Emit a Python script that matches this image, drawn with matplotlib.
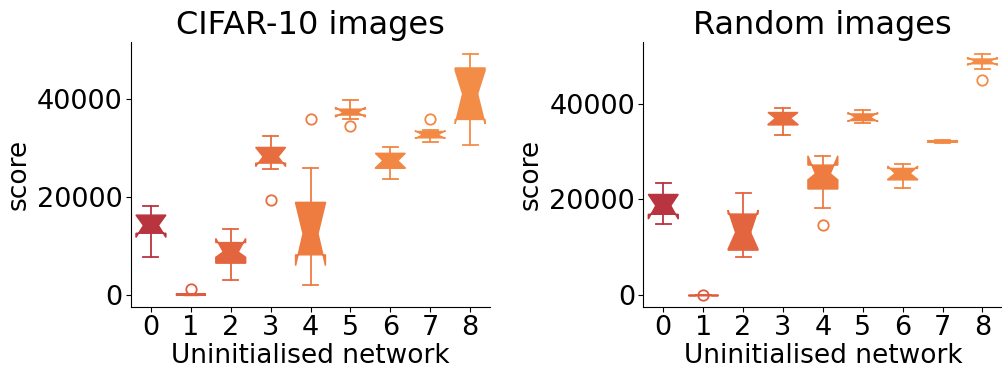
import matplotlib
matplotlib.use("Agg")
import matplotlib.pyplot as plt
from matplotlib.ticker import MultipleLocator

networks = [str(i) for i in range(9)]
colours = ["#b8343f", "#e05c40", "#e3653f", "#e76d3f", "#ee7c40",
           "#ef8240", "#f18743", "#f28a44", "#f38c46"]

# CIFAR-10 images: per-network summary statistics
cifar_lo = [7700, 0, 3000, 25800, 2000, 35900, 23700, 31300, 30500]
cifar_q1 = [12600, 0, 6500, 26900, 8200, 36700, 25850, 32050, 35800]
cifar_cilo = [11750, 0, 7700, 26200, 6000, 36300, 25900, 31950, 34900]
cifar_med = [14200, 80, 8800, 28200, 12500, 37200, 27400, 32650, 41000]
cifar_cihi = [16300, 250, 11550, 30100, 18800, 38300, 28900, 33500, 45800]
cifar_q3 = [16300, 250, 10700, 30100, 18900, 37900, 28900, 33350, 46300]
cifar_hi = [18200, 300, 13400, 32500, 26000, 39800, 30100, 33600, 49100]
cifar_fliers = [[], [1250], [], [19450], [35800], [34450], [], [35800], []]

# Random images: per-network summary statistics
random_lo = [14950, 0, 7900, 33400, 18300, 36100, 22500, 31900, 47300]
random_q1 = [16900, 0, 9400, 35600, 22200, 36500, 24100, 32000, 48400]
random_cilo = [15900, 0, 9600, 35700, 24100, 36300, 24200, 31950, 48100]
random_med = [18700, 0, 13100, 37000, 25400, 37200, 25450, 32150, 48900]
random_cihi = [21050, 0, 17800, 38200, 29150, 38200, 27000, 32350, 49750]
random_q3 = [21050, 0, 16950, 38200, 27200, 37900, 26500, 32300, 49400]
random_hi = [23400, 0, 21400, 39100, 29100, 38700, 27350, 32400, 50400]
random_fliers = [[], [0], [], [], [14650], [], [], [], [45100]]


def make_stats(lo, q1, cilo, med, cihi, q3, hi, fliers):
    return [dict(whislo=lo[i], q1=q1[i], cilo=cilo[i], med=med[i],
                 cihi=cihi[i], q3=q3[i], whishi=hi[i], fliers=fliers[i],
                 label=networks[i])
            for i in range(len(networks))]


panels = [
    ("CIFAR-10 images", make_stats(cifar_lo, cifar_q1, cifar_cilo, cifar_med,
                                   cifar_cihi, cifar_q3, cifar_hi, cifar_fliers)),
    ("Random images", make_stats(random_lo, random_q1, random_cilo, random_med,
                                 random_cihi, random_q3, random_hi, random_fliers)),
]

plt.rcParams["font.family"] = "DejaVu Sans"
fig = plt.figure(figsize=(10.03, 3.7), dpi=100)
axes = [fig.add_axes([0.1306, 0.170, 0.358, 0.716]),
        fig.add_axes([0.6414, 0.170, 0.358, 0.716])]

for ax, (title, stats) in zip(axes, panels):
    bp = ax.bxp(stats, shownotches=True, patch_artist=True, widths=0.75)
    for i, c in enumerate(colours):
        bp["boxes"][i].set_facecolor(c)
        bp["boxes"][i].set_edgecolor(c)
        bp["medians"][i].set_color(c)
        for line in bp["whiskers"][2 * i:2 * i + 2] + bp["caps"][2 * i:2 * i + 2]:
            line.set_color(c)
            line.set_linewidth(1.3)
        fl = bp["fliers"][i]
        fl.set_markeredgecolor(c)
        fl.set_markerfacecolor("none")
        fl.set_markersize(7.5)
        fl.set_markeredgewidth(1.3)
    ax.set_title(title, fontsize=23)
    ax.set_xlabel("Uninitialised network", fontsize=19, labelpad=1)
    ax.set_ylabel("score", fontsize=19)
    ax.yaxis.set_major_locator(MultipleLocator(20000))
    ax.tick_params(labelsize=19.5, pad=2.5)
    ax.spines["top"].set_visible(False)
    ax.spines["right"].set_visible(False)

fig.savefig("out.png", dpi=100)
